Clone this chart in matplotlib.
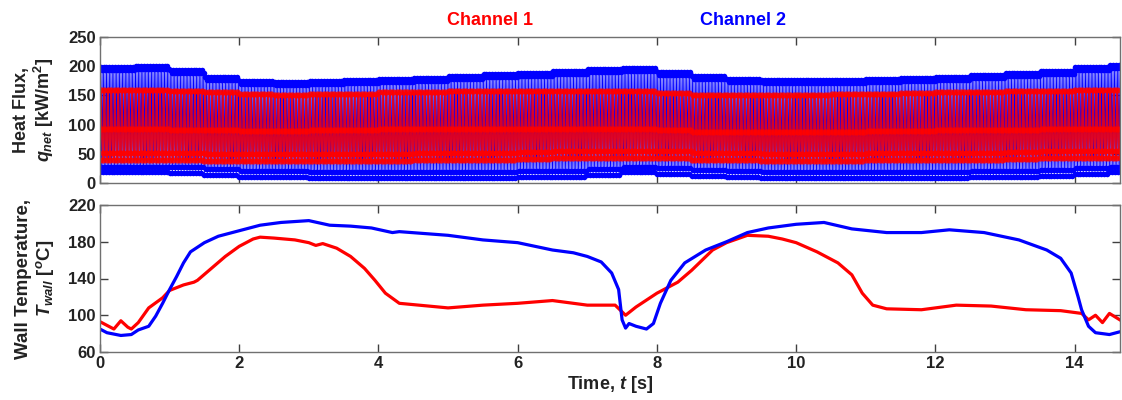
import numpy as np
import matplotlib
matplotlib.use("Agg")
import matplotlib.pyplot as plt

plt.rcParams['font.family'] = ['Liberation Sans', 'DejaVu Sans']
plt.rcParams['font.weight'] = 'bold'
plt.rcParams['mathtext.fontset'] = 'custom'
plt.rcParams['mathtext.rm'] = 'Liberation Sans:bold'
plt.rcParams['mathtext.it'] = 'Liberation Sans:italic:bold'
plt.rcParams['mathtext.bf'] = 'Liberation Sans:bold'

# ---------------- heat flux envelopes (read every 0.5 s) ----------------
t_env = [0.0, 0.5, 1.0, 1.5, 2.0, 2.5, 3.0, 3.5, 4.0, 4.5, 5.0, 5.5, 6.0, 6.5, 7.0,
         7.5, 8.0, 8.5, 9.0, 9.5, 10.0, 10.5, 11.0, 11.5, 12.0, 12.5, 13.0, 13.5, 14.0, 14.5]
blue_hi = [198, 201, 193, 182, 175, 173, 175, 176, 178, 180, 183, 186, 189, 192, 195,
           197, 190, 183, 178, 176, 176, 177, 178, 180, 182, 185, 188, 192, 198, 202]
blue_lo = [18, 18, 17, 14, 11, 10, 9, 9, 9, 9, 9, 9, 10, 11, 14,
           18, 15, 12, 10, 9, 9, 9, 9, 9, 9, 10, 10, 12, 16, 18]
red_hi = [160, 160, 158, 155, 152, 151, 152, 153, 155, 156, 157, 157, 158, 158, 158,
          157, 154, 151, 150, 150, 151, 152, 153, 154, 155, 156, 157, 158, 159, 160]
red_mid = [93, 92, 91, 90, 89, 89, 90, 91, 92, 92, 93, 93, 93, 93, 93,
           92, 90, 88, 87, 87, 88, 88, 89, 89, 90, 90, 91, 92, 93, 93]
red_lo = [40, 40, 39, 38, 37, 37, 37, 38, 38, 39, 39, 40, 41, 42, 43,
          43, 42, 40, 39, 38, 38, 38, 39, 39, 40, 40, 41, 42, 43, 43]

# ---------------- wall temperature ----------------
t_ch1 = [0.0, 0.15, 0.2, 0.3, 0.4, 0.45, 0.55, 0.7, 0.9, 1.0, 1.2, 1.35, 1.4, 1.6, 1.8,
         2.0, 2.2, 2.3, 2.5, 2.8, 3.0, 3.1, 3.2, 3.4, 3.6, 3.8, 3.95, 4.1, 4.3, 5.0,
         5.5, 6.0, 6.5, 7.0, 7.2, 7.4, 7.55, 7.7, 8.0, 8.3, 8.5, 8.8, 9.0, 9.3, 9.6,
         9.8, 10.0, 10.3, 10.6, 10.8, 10.95, 11.1, 11.3, 11.8, 12.3, 12.8, 13.3, 13.8, 14.1, 14.2,
         14.3, 14.4, 14.5, 14.65]
T_ch1 = [93, 87, 85, 94, 87, 85, 92, 108, 119, 127, 133, 136, 138, 151, 164,
         175, 183, 185, 184, 182, 179, 176, 178, 173, 164, 151, 138, 124, 113, 108,
         111, 113, 116, 111, 111, 111, 100, 109, 124, 136, 149, 171, 179, 187, 186,
         183, 179, 169, 157, 144, 124, 111, 107, 106, 111, 110, 106, 105, 102, 95,
         100, 92, 102, 95]
t_ch2 = [0.0, 0.1, 0.3, 0.45, 0.55, 0.7, 0.8, 0.9, 1.0, 1.1, 1.2, 1.3, 1.5, 1.7, 2.0,
         2.3, 2.6, 3.0, 3.3, 3.6, 3.9, 4.2, 4.3, 5.0, 5.5, 6.0, 6.5, 6.8, 7.0, 7.2,
         7.35, 7.45, 7.5, 7.55, 7.6, 7.7, 7.85, 7.95, 8.05, 8.2, 8.4, 8.7, 9.0, 9.3, 9.6,
         10.0, 10.4, 10.8, 11.3, 11.8, 12.2, 12.7, 13.2, 13.6, 13.8, 13.95, 14.05, 14.1, 14.2, 14.3,
         14.5, 14.65]
T_ch2 = [85, 81, 78, 79, 84, 88, 99, 113, 128, 142, 157, 169, 179, 186, 192,
         198, 201, 203, 198, 197, 195, 190, 191, 187, 182, 179, 171, 168, 164, 158,
         146, 128, 95, 86, 91, 88, 85, 91, 113, 138, 157, 171, 180, 190, 195,
         199, 201, 194, 190, 190, 193, 190, 182, 171, 162, 146, 120, 106, 88, 81,
         79, 82]

RED = (1.0, 0.0, 0.0)
BLUE = (0.0, 0.0, 1.0)
INK = '#222222'


def cycle_signal(levels, n_cyc, t_step):
    # hold each read envelope value for n_cyc cycles, alternate through the levels
    lv = [np.repeat(np.asarray(l, float), n_cyc) for l in levels]
    y = np.column_stack(lv).ravel()
    t = np.arange(y.size) * t_step
    return t, y


fig = plt.figure(figsize=(11.22, 4.0), dpi=100)
ax1 = fig.add_axes([0.0891, 0.5425, 0.909, 0.365])
ax2 = fig.add_axes([0.0891, 0.12, 0.909, 0.3675])

# channel 2 (blue) behind, channel 1 (red) on top
bh = np.array(blue_hi); bl = np.array(blue_lo)
tb, yb = cycle_signal([bl, bh, bl + 10, bh - 5], 12, 0.5 / 48)
ax1.plot(tb, yb, '-', color=BLUE, lw=0.6, marker='o', ms=4, mew=0)

rh = np.array(red_hi); rm = np.array(red_mid); rl = np.array(red_lo)
tr, yr = cycle_signal([rl, rh, rm, rl + 12], 10, 0.5 / 40)
ax1.plot(tr, yr, '-', color=RED, lw=1.3, marker='o', ms=4.5, mew=0, alpha=0.85)

ax2.plot(t_ch1, T_ch1, color=RED, lw=2.3)
ax2.plot(t_ch2, T_ch2, color=BLUE, lw=2.3)

for ax in (ax1, ax2):
    ax.set_xlim(0, 14.65)
    ax.set_xticks([0, 2, 4, 6, 8, 10, 12, 14])
    ax.tick_params(direction='in', top=True, right=True, length=6, width=1,
                   color='#404040', labelsize=12, labelcolor=INK, pad=3)
    for s in ax.spines.values():
        s.set_color('#707070')
        s.set_linewidth(1.0)

ax1.set_ylim(0, 250)
ax1.set_yticks([0, 50, 100, 150, 200, 250])
ax1.set_xticklabels([])
ax1.set_ylabel('Heat Flux,\n$q_{net}$ [kW/m$^2$]', fontsize=13, fontweight='bold',
               color=INK, labelpad=9, linespacing=1.1)

ax2.set_ylim(60, 220)
ax2.set_yticks([60, 100, 140, 180, 220])
ax2.set_ylabel('Wall Temperature,\n$T_{wall}$ [$^o$C]', fontsize=13.5, fontweight='bold',
               color=INK, labelpad=9, linespacing=1.1)
ax2.set_xlabel('Time, $t$ [s]', fontsize=13, fontweight='bold', color=INK, labelpad=2)

fig.text(0.4365, 0.948, 'Channel 1', color=RED, fontsize=13, fontweight='bold',
         ha='center', va='center')
fig.text(0.662, 0.948, 'Channel 2', color=BLUE, fontsize=13, fontweight='bold',
         ha='center', va='center')

fig.savefig('out.png', dpi=100)
